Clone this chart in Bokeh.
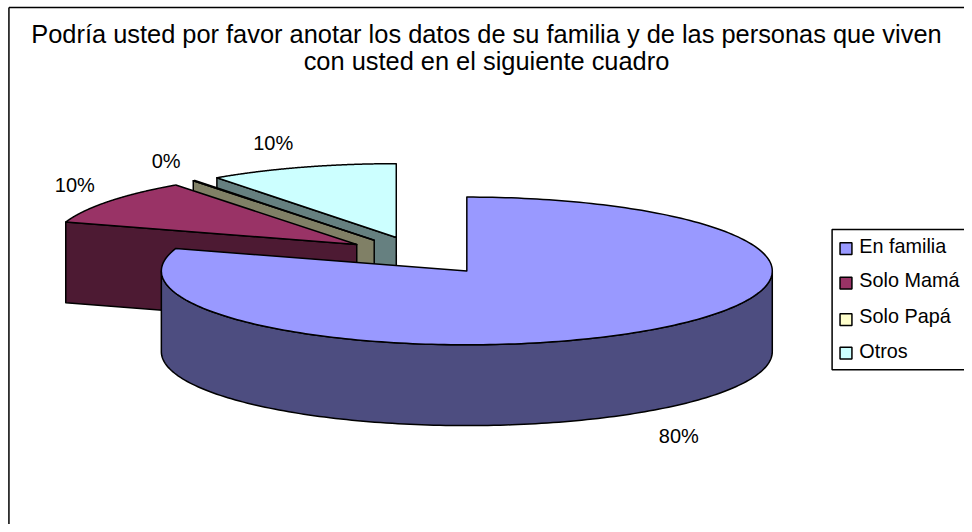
import numpy as np
from bokeh.plotting import figure
from bokeh.models import Range1d
from bokeh.core.properties import value
from bokeh.embed import file_html
from bokeh.resources import INLINE

categories = ["En familia", "Solo Mamá", "Solo Papá", "Otros"]
values = [80.0, 10.0, 0.1, 10.0]
pct_labels = ["80%", "10%", "0%", "10%"]
top_colors = ["#9999FF", "#993366", "#FFFFCC", "#CCFFFF"]
side_colors = ["#4D4D80", "#4D1A33", "#808066", "#668080"]
title_lines = ["Podría usted por favor anotar los datos de su familia y de las personas que viven",
               "con usted en el siguiente cuadro"]

W, H = 964, 524
FONT = value("Liberation Sans")
p = figure(width=W, height=H, output_backend="svg", toolbar_location=None,
           x_range=Range1d(0, 972), y_range=Range1d(532, 0),
           min_border=0, outline_line_color=None, margin=(0, -8, -8, 0))
p.xaxis.visible = False
p.yaxis.visible = False
p.grid.visible = False

LW = 1.5
# chart frame (right and bottom edges fall outside the picture)
p.line([8.5, 8.5], [532, 7], line_color="black", line_width=LW)
p.line([8.5, 972], [7, 7], line_color="black", line_width=LW)

# pie geometry
CX, CY, A, B, DEPTH, EXPLODE = 423.5, 259.0, 308.0, 75.0, 82.0, 0.257
tot = sum(values)
edges = np.cumsum([0.0] + [v / tot * 2 * np.pi for v in values])

def rim(cx, cy, t):
    return cx + A * np.sin(t), cy - B * np.cos(t)

def centre(i):
    mid = (edges[i] + edges[i + 1]) / 2
    return CX + EXPLODE * A * np.sin(mid), CY - EXPLODE * B * np.cos(mid)

def poly(xs, ys, color):
    p.patch(list(xs), list(ys), fill_color=color, line_color="black",
            line_width=LW, line_join="round")

for i in [3, 2, 1, 0]:
    cx, cy = centre(i)
    t0, t1 = edges[i], edges[i + 1]
    if i != 0:
        ex, ey = rim(cx, cy, t0)
        poly([cx, ex, ex, cx], [cy, ey, ey + DEPTH, cy + DEPTH], side_colors[i])
    lo, hi = max(t0, np.pi / 2), min(t1, 3 * np.pi / 2)
    if hi > lo:
        t = np.linspace(lo, hi, 160)
        x, y = rim(cx, cy, t)
        poly(np.r_[x, x[::-1]], np.r_[y, y[::-1] + DEPTH], side_colors[i])
    t = np.linspace(t0, t1, 240)
    x, y = rim(cx, cy, t)
    poly(np.r_[cx, x], np.r_[cy, y], top_colors[i])

# title
p.text([490, 490], [34, 61], text=title_lines, text_align="center", text_baseline="middle",
       text_font=FONT, text_font_size="25.4px", text_color="black")

# data labels
lx = [684, 75, 167, 275]
ly = [442, 187, 163, 145]
p.text(lx, ly, text=pct_labels, text_align="center", text_baseline="middle",
       text_font=FONT, text_font_size="20px", text_color="black")

# legend
p.line([972, 838.5, 838.5, 972], [232.5, 232.5, 375, 375], line_color="black", line_width=LW)
key_y = [252, 287, 324, 358]
text_y = [249, 284, 320, 356]
p.rect([852.5] * 4, key_y, width=12, height=12, fill_color=top_colors, line_color="black", line_width=LW)
p.text([866] * 4, text_y, text=categories, text_align="left", text_baseline="middle",
       text_font=FONT, text_font_size="19.8px", text_color="black")

open("out.html", "w").write(file_html(p, INLINE))
